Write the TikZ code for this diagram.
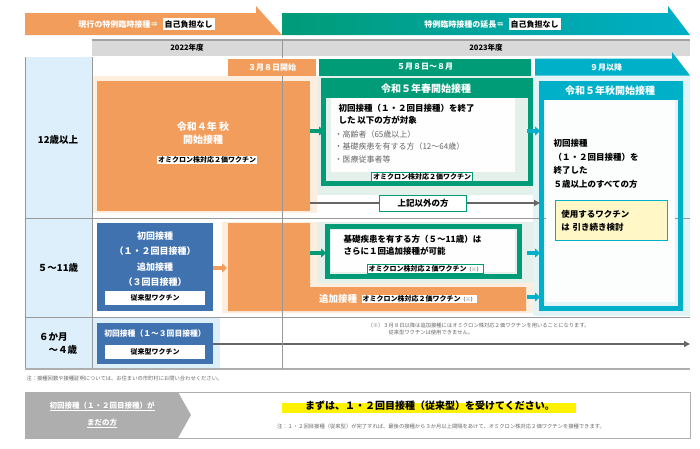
\documentclass[tikz,border=0pt]{standalone}
\usepackage{fontspec}
\setmainfont{Noto Sans CJK JP}
\usetikzlibrary{arrows.meta,positioning}
\definecolor{vorange}{HTML}{F29D5C}
\definecolor{vlorange}{HTML}{FDEEDF}
\definecolor{vgreen}{HTML}{009B77}
\definecolor{vlgreen}{HTML}{E3F1EA}
\definecolor{vcyan}{HTML}{00AFC8}
\definecolor{vlcyan}{HTML}{E2F4F8}
\definecolor{vblue}{HTML}{3F72AF}
\definecolor{vlblue}{HTML}{DDEFFA}
\definecolor{vgray}{HTML}{D9D9D9}
\definecolor{vdgray}{HTML}{666666}
\definecolor{vyellow}{HTML}{FFF8C6}
\tikzset{
  tag/.style={draw=#1, fill=white, line width=0.8pt, inner sep=1.5pt, font=\fontsize{7}{8}\selectfont\bfseries, text=black},
  head/.style={font=\fontsize{9}{10}\selectfont\bfseries, text=white},
  body/.style={font=\fontsize{8.5}{12}\selectfont\bfseries, align=left, text=black, anchor=north west},
  rowlab/.style={font=\fontsize{9.5}{13}\selectfont\bfseries, align=left},
  fwd/.style={-{Triangle[length=5pt,width=9pt]}, line width=4pt, #1},
  tiny/.style={font=\fontsize{5.3}{7}\selectfont, text=vdgray, align=left}
}
\begin{document}
\begin{tikzpicture}[x=1pt,y=-1pt]
\useasboundingbox (0,0) rectangle (700,448);
% banners
\fill[vorange] (25,13) -- (256,13) -- (256,6) -- (282,35) -- (25,35) -- cycle;
\shade[left color=vgreen, right color=vcyan] (282,13) -- (668,13) -- (668,6) -- (690,35) -- (282,35) -- cycle;
\node[head, anchor=east, font=\fontsize{8}{9}\selectfont\bfseries] (curtxt) at (162,24) {現行の特例臨時接種＝};
\node[fill=white, font=\fontsize{8}{9}\selectfont\bfseries, inner sep=2pt, right=0.5pt of curtxt] (curbox) {自己負担なし};
\node[head, anchor=east, font=\fontsize{8}{9}\selectfont\bfseries] (exttxt) at (508,24) {特例臨時接種の延長＝};
\node[fill=white, font=\fontsize{8}{9}\selectfont\bfseries, inner sep=2pt, right=0.5pt of exttxt] (extbox) {自己負担なし};
% years
\fill[vgray] (92,40) rectangle (690,56);
\draw[vdgray!60, line width=1.2pt] (92,40) -- (690,40);
\node[font=\fontsize{7.5}{8}\selectfont\bfseries] (y22) at (187,48) {2022年度};
\node[font=\fontsize{7.5}{8}\selectfont\bfseries] (y23) at (486,48) {2023年度};
% periods
\node[fill=vorange, text=white, font=\fontsize{8}{9}\selectfont\bfseries, minimum width=88pt, minimum height=17pt] (p1) at (272,67) {３月８日開始};
\node[fill=vgreen, text=white, font=\fontsize{8}{9}\selectfont\bfseries, minimum width=212pt, minimum height=17pt] (p2) at (425,67) {５月８日～８月};
\fill[vcyan] (535,58.5) -- (672,58.5) -- (672,52) -- (690,75.5) -- (535,75.5) -- cycle;
\node[text=white, font=\fontsize{8}{9}\selectfont\bfseries] (p3) at (606,67) {９月以降};
% backgrounds
\fill[vlblue] (25,57) rectangle (92,369);
\fill[vlorange] (92,76) rectangle (317,213);
\fill[vlgreen] (317,76) rectangle (533,195);
\fill[vlcyan] (533,76) rectangle (690,316);
\fill[vlorange] (222,222) rectangle (533,313);
\fill[vlgreen] (317,222) rectangle (533,283);
\fill[vlblue] (92,318) rectangle (220,369);
\draw[vgray!70!black, line width=0.8pt] (25,57) -- (25,369) (92,57) -- (92,369) (25,218) -- (690,218) (25,317) -- (690,317);
\draw[vgray!80!black, line width=1.2pt] (25,369) -- (690,369);
\node[rowlab] (r1) at (58,140) {12歳以上};
\node[rowlab] (r2) at (58,268) {５～11歳};
\node[rowlab, align=left] (r3) at (58,344) {６か月\\\quad～４歳};
% 12+ row
\fill[vorange] (97,81) rectangle (310,211);
\node[head, align=center, font=\fontsize{10}{13}\selectfont\bfseries] (autumn4) at (203,133) {令和４年 秋\\開始接種};
\node[tag=vorange] (om1) at (207,160) {オミクロン株対応２価ワクチン};
\draw[vgreen, line width=5pt] (323,80) rectangle (530,183);
\fill[vgreen] (321,78) rectangle (532,98);
\node[head, font=\fontsize{10}{11}\selectfont\bfseries] (spring) at (426,89) {令和５年春開始接種};
\fill[white!92!vlgreen] (331,98) rectangle (515,172);
\node[body] (sp1) at (335,101) {初回接種（１・２回目接種）を終了\\した 以下の方が対象};
\node[body, font=\fontsize{8}{12.5}\selectfont, text=vdgray] (sp2) at (331,127) {・高齢者（65歳以上）\\・基礎疾患を有する方（12～64歳）\\・医療従事者等};
\node[tag=vgreen] (om2) at (422,177) {オミクロン株対応２価ワクチン};
\draw[fwd=vgreen] (310,131) -- (324,131);
\draw[vcyan, line width=5pt] (541,83) rectangle (680,308);
\fill[vcyan] (539,81) rectangle (682,100);
\node[head, font=\fontsize{10}{11}\selectfont\bfseries] (aut5) at (610,91) {令和５年秋開始接種};
\fill[white!90!vlcyan] (546,100) rectangle (675,302);
\node[body, font=\fontsize{8.5}{13.5}\selectfont\bfseries] (au1) at (550,136) {初回接種\\（１・２回目接種）を\\終了した\\５歳以上のすべての方};
\node[draw=vcyan, fill=vyellow, line width=0.8pt, minimum width=112pt, minimum height=40pt, anchor=north west, text width=100pt, font=\fontsize{8.5}{13}\selectfont\bfseries] (vax) at (555,200) {使用するワクチン\\は 引き続き検討};
\draw[fwd=vcyan] (527,131) -- (540,131);
% others arrow
\coordinate (oth0) at (310,203);
\coordinate (oth1) at (540,203);
\draw[-{Triangle[length=6pt,width=6pt]}, vdgray, line width=1.5pt] (oth0) -- (oth1);
\node[tag=vgreen, font=\fontsize{8.5}{9}\selectfont\bfseries, minimum width=87pt, minimum height=16pt] (others) at (423,203) {上記以外の方};
% 5-11 row
\fill[vblue] (97,223) rectangle (213,311);
\node[head, align=center, font=\fontsize{9}{15.5}\selectfont\bfseries] (b1) at (155,259) {初回接種\\（１・２回目接種）\\追加接種\\（３回目接種）};
\node[fill=white, font=\fontsize{7}{8}\selectfont\bfseries, minimum width=100pt, minimum height=13pt] (conv1) at (155,298) {従来型ワクチン};
\draw[fwd=vorange] (213,268) -- (227,268);
\fill[vorange] (228,223) -- (310,223) -- (310,287) -- (526,287) -- (526,311) -- (228,311) -- cycle;
\draw[vgreen, line width=5pt] (327,226) rectangle (519,276);
\fill[white!92!vlgreen] (331,230) rectangle (515,272);
\node[body] (kid1) at (340,232) {基礎疾患を有する方（５～11歳）は\\さらに１回追加接種が可能};
\node[tag=vgreen] (om3) at (425,269) {オミクロン株対応２価ワクチン\textcolor{vdgray}{\fontsize{5}{6}\selectfont（※）}};
\draw[fwd=vgreen] (310,253) -- (326,253);
\draw[fwd=vcyan] (527,253) -- (540,253);
\draw[fwd=vcyan] (527,297) -- (540,297);
\node[tag=vorange] (om4) at (419,299) {オミクロン株対応２価ワクチン\textcolor{vdgray}{\fontsize{5}{6}\selectfont（※）}};
\node[head, left=0pt of om4, font=\fontsize{9.5}{10}\selectfont\bfseries] (boost) {追加接種};
% 6m row
\fill[vblue] (97,323) rectangle (213,364);
\node[head, font=\fontsize{7.8}{8}\selectfont\bfseries] (b2) at (155,334) {初回接種（１～３回目接種）};
\node[fill=white, font=\fontsize{7}{8}\selectfont\bfseries, minimum width=100pt, minimum height=13pt] (conv2) at (155,352) {従来型ワクチン};
\coordinate (inf) at (690,344);
\draw[-{Triangle[length=6pt,width=6pt]}, vdgray, line width=1.5pt] (213,344) -- (inf);
\node[tiny, anchor=north west] (note1) at (364,319) {（※）３月８日以降は追加接種にはオミクロン株対応２価ワクチンを用いることになります。\\\hspace{21pt}従来型ワクチンは使用できません。};
\draw[vgray!70!black, line width=0.8pt] (282,40) -- (282,58) (282,76) -- (282,369);
% notes
\node[tiny, anchor=west] (note2) at (23,378) {注：接種回数や接種証明については、お住まいの市町村にお問い合わせください。};
\draw[vgray!80!black, line width=0.8pt] (25,392) rectangle (690,438);
\fill[vgray!80!black] (25,392) -- (178,392) -- (191,415) -- (178,438) -- (25,438) -- cycle;
\node[text=white, font=\fontsize{7.5}{17}\selectfont\bfseries, align=center] (yet) at (102,415) {\underline{初回接種（１・２回目接種）が}\\\underline{まだの方}};
\fill[yellow] (282,403) rectangle (576,413);
\node[font=\fontsize{10}{11}\selectfont\bfseries] (first) at (430,406) {まずは、１・２回目接種（従来型）を受けてください。};
\node[tiny] (note3) at (441,426) {注：１・２回目接種（従来型）が完了すれば、最後の接種から３か月以上間隔をあけて、オミクロン株対応２価ワクチンを接種できます。};
\end{tikzpicture}
\end{document}
